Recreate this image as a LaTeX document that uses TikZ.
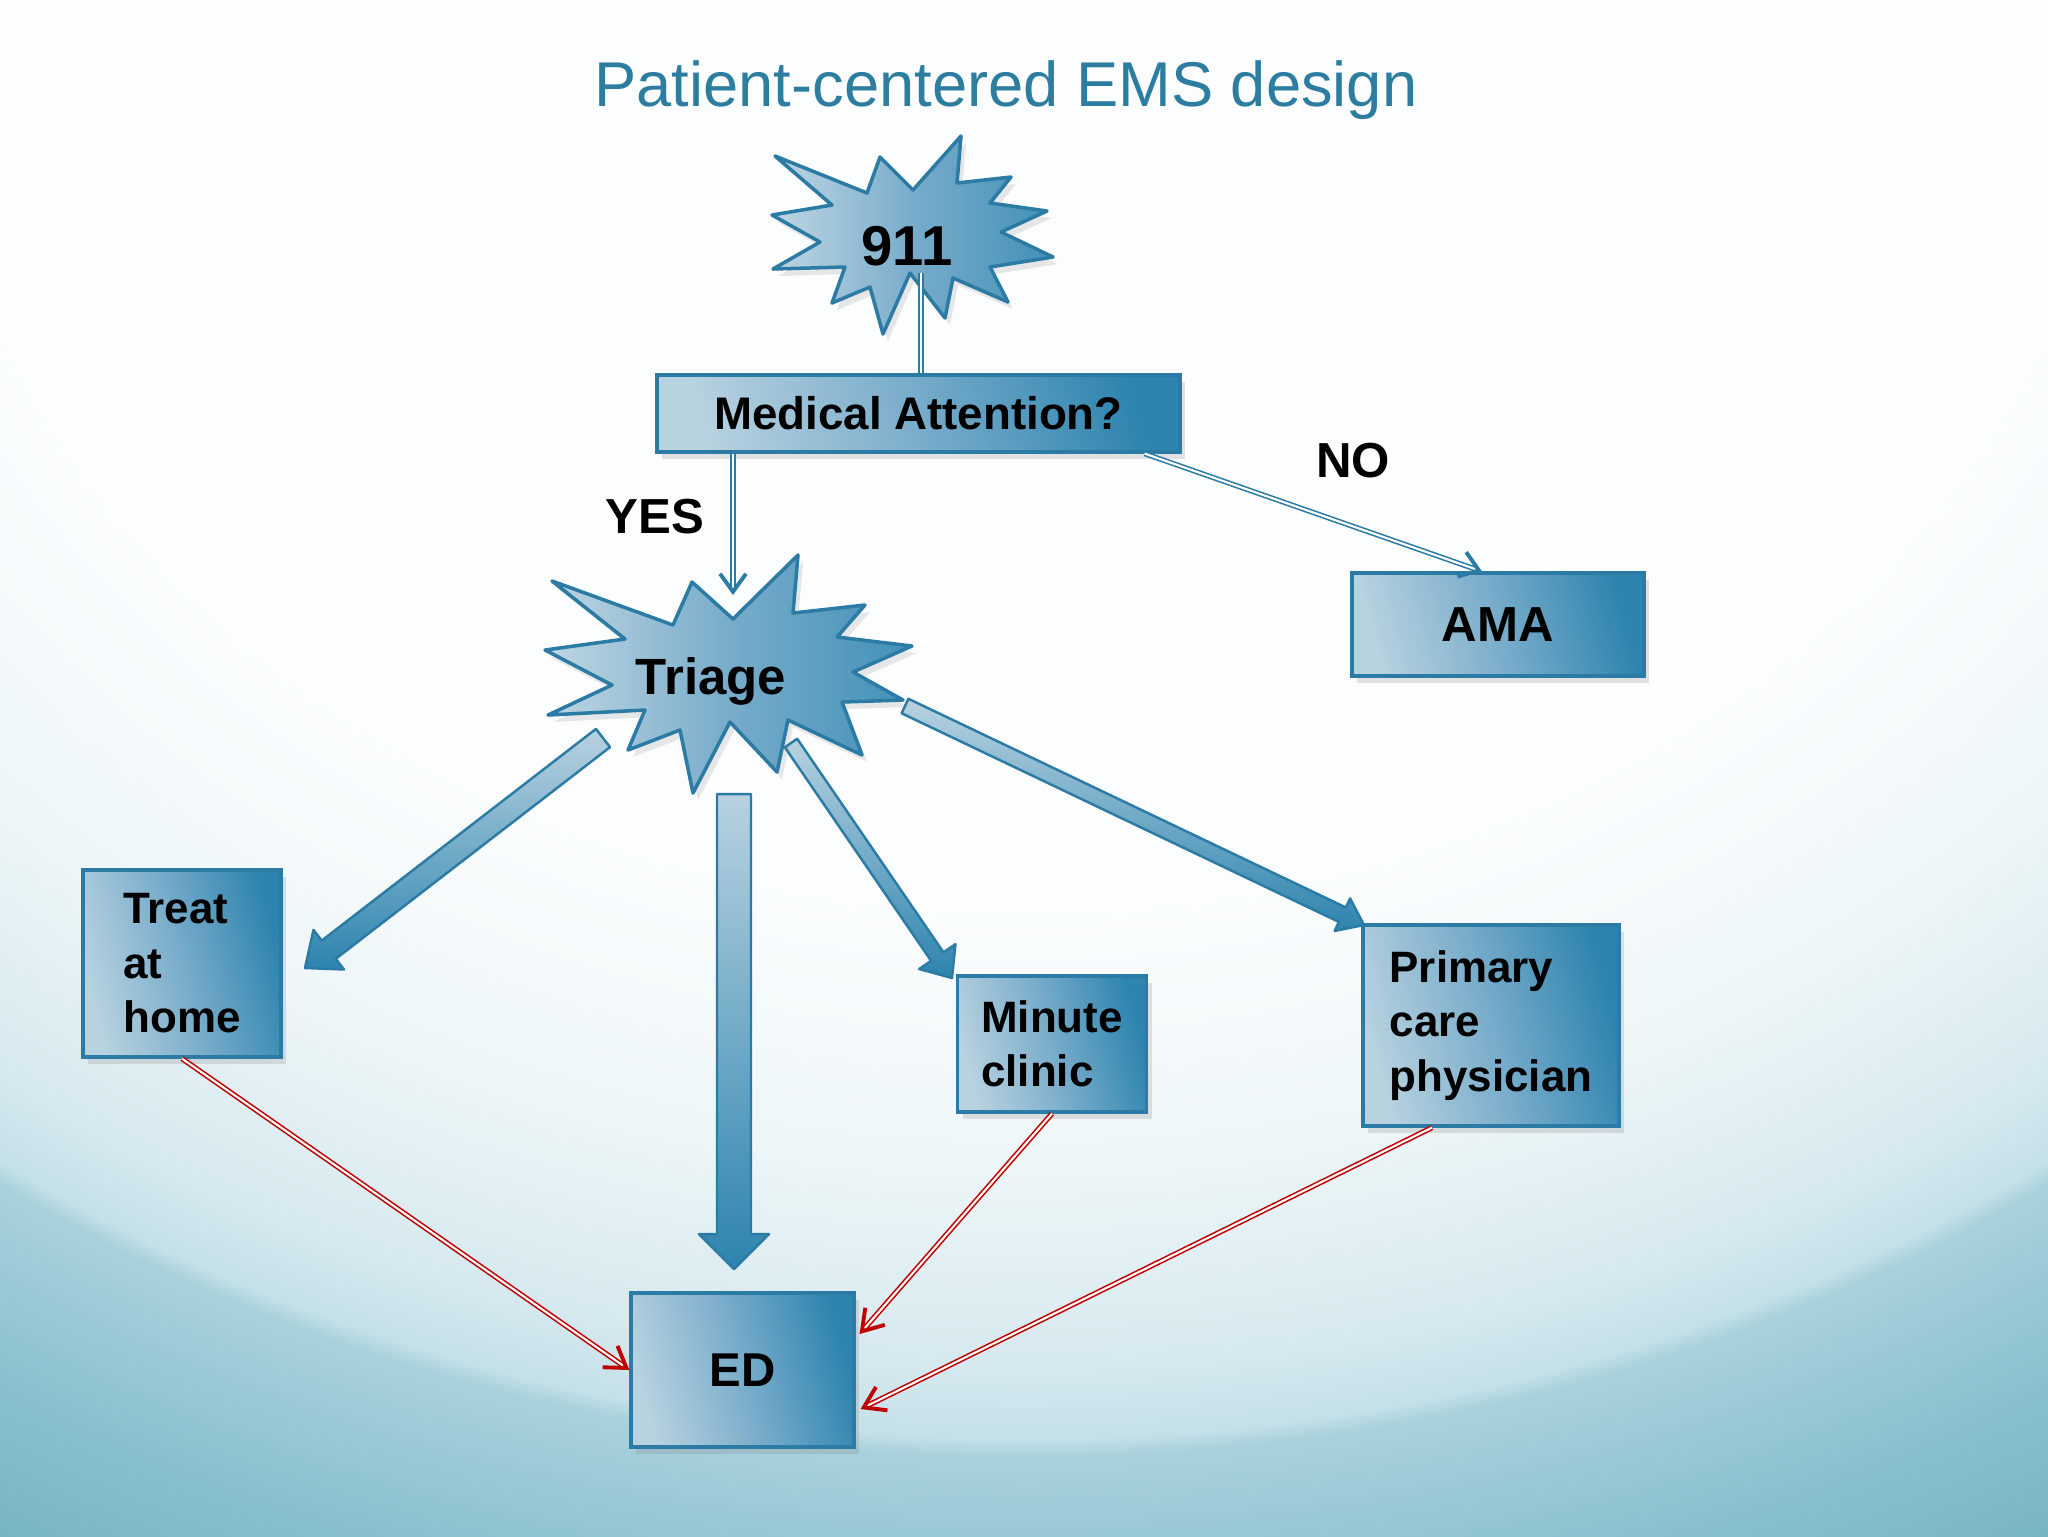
\documentclass[tikz,border=0pt]{standalone}
\usepackage{fontspec}
\setmainfont{Liberation Sans}
\usetikzlibrary{calc,arrows.meta,shadows}

\definecolor{titleblue}{HTML}{2C7DA0}
\definecolor{edgeblue}{HTML}{2B7BA5}
\definecolor{boxlight}{HTML}{B8D2E0}
\definecolor{boxmid}{HTML}{78ACCA}
\definecolor{boxdark}{HTML}{2D84AF}
\definecolor{edred}{HTML}{C00000}
\definecolor{bgwhite}{HTML}{FBFDFE}
\definecolor{bgpale}{HTML}{EEF6F8}
\definecolor{bglight}{HTML}{D6E9EF}
\definecolor{bgrim}{HTML}{C4E0E8}
\definecolor{bgmid}{HTML}{A8D1DC}
\definecolor{bgteal}{HTML}{88BFCD}
\definecolor{bgdeep}{HTML}{72AFC1}

% the path box maps to -25bp..25bp
\pgfdeclareradialshading{bgglow}{\pgfpoint{0bp}{0bp}}{%
  color(0bp)=(bgwhite); color(12.5bp)=(bgwhite); color(16bp)=(bgpale);
  color(18.8bp)=(bglight); color(19.85bp)=(bgrim); color(20.1bp)=(bgmid);
  color(22.5bp)=(bgteal); color(25bp)=(bgdeep); color(50bp)=(bgdeep)}

% fat arrow: tail, tip, half shaft, half head, head length
\newcommand{\fatarrow}[5]{%
  \coordinate (hb) at ($(#2)!#5!(#1)$);
  \path[fatarr] ($(#1)!#3!90:(#2)$) -- ($(hb)!#3!-90:(#1)$) -- ($(hb)!#4!-90:(#1)$)
    -- (#2) -- ($(hb)!#4!90:(#1)$) -- ($(hb)!#3!90:(#1)$) -- ($(#1)!#3!-90:(#2)$) -- cycle;
}

\tikzset{
  box/.style={draw=edgeblue, line width=0.9pt, left color=boxlight, right color=boxdark,
    middle color=boxmid, shading angle=105, inner sep=0pt,
    drop shadow={shadow xshift=0.5mm, shadow yshift=-0.7mm, opacity=0.22}},
  burst/.style={draw=edgeblue, line width=1pt, line join=round, left color=boxlight!90!white,
    right color=boxdark!90!white, middle color=boxmid,
    drop shadow={shadow xshift=0.5mm, shadow yshift=-0.7mm, opacity=0.18}},
  fatarr/.style={draw=edgeblue, line width=0.7pt, line join=round, top color=boxlight,
    bottom color=boxdark},
  lbl/.style={font=\fontsize{14}{17}\selectfont\bfseries},
  boxtxt/.style={font=\fontsize{12.5}{15.5}\selectfont\bfseries, align=left},
  blueline/.style={draw=edgeblue, double=white, double distance=0.6pt, line width=0.45pt},
  redline/.style={draw=edred, double=white, double distance=0.6pt, line width=0.45pt},
  bluetip/.style={-{Straight Barb[length=1.8mm, width=2.6mm, line width=1.1pt]}},
  redtip/.style={-{Straight Barb[length=2mm, width=2.6mm, line width=1.1pt]}},
}

\begin{document}
\begin{tikzpicture}[x=0.1mm, y=-0.1mm]
  \useasboundingbox (0,0) rectangle (2048,1536);
  % background
  \begin{scope}
    \clip (0,0) rectangle (2048,1536);
    \shade[shading=bgglow] (-1161,-1812) rectangle (3209,1812);
  \end{scope}

  \node[anchor=base, font=\fontsize{18}{22}\selectfont, text=titleblue] (title) at (1006,106)
    {Patient-centered EMS design};

  % connectors under the bursts
  \coordinate (c911) at (921,273);
  \coordinate (yesend) at (733,595);

  % 911 burst
  \path[burst] (775,156) -- (867,193) -- (880,157) -- (913,190) -- (961,136) -- (957,183)
    -- (1011,177) -- (990,203) -- (1047,211) -- (1001,232) -- (1053,257) -- (990,267)
    -- (1008,302) -- (953,278) -- (945,318) -- (910,273) -- (883,334) -- (870,287)
    -- (832,303) -- (845,267) -- (773,269) -- (820,242) -- (772,215) -- (832,205) -- cycle;
  \node[lbl, font=\fontsize{16}{19}\selectfont\bfseries, anchor=base] (n911) at (907,265) {911};

  % boxes
  \node[box, lbl, font=\fontsize{13}{16}\selectfont\bfseries, minimum width=52.3mm,
    minimum height=7.7mm] (ma) at (918.5,413.5) {Medical Attention?};
  \node[box, lbl, minimum width=29.2mm, minimum height=10.3mm] (ama) at (1498,624.5) {AMA};
  \node[box, boxtxt, minimum width=19.8mm, minimum height=18.7mm] (treat) at (182,963.5)
    {Treat\\at\\home};
  \node[box, boxtxt, minimum width=18.9mm, minimum height=13.6mm] (minute) at (1052,1044)
    {Minute\\clinic};
  \node[box, boxtxt, minimum width=25.6mm, minimum height=20.1mm] (primary) at (1491,1025.5)
    {Primary\\care\\physician};
  \node[box, lbl, font=\fontsize{13.5}{16}\selectfont\bfseries, minimum width=22.3mm,
    minimum height=15.4mm] (ed) at (742.5,1370) {ED};

  \draw[blueline] (c911) -- (c911 |- ma.north);
  \draw[blueline, bluetip] (yesend |- ma.south) -- (yesend);
  \draw[blueline, bluetip] ([xshift=-3.7mm]ma.south east) -- ([xshift=-1.6mm]ama.north);
  \node[lbl, anchor=base] (yes) at (655,533) {YES};
  \node[lbl, anchor=base] (no) at (1353,477) {NO};

  % fat arrows out of triage
  \coordinate (tTreat) at (603,738);   \coordinate (pTreat) at (305,968);
  \coordinate (tEd) at (734,794);      \coordinate (pEd) at (734,1269);
  \coordinate (tMinute) at (791,743);  \coordinate (pMinute) at (952,978);
  \coordinate (tPrimary) at (905,706); \coordinate (pPrimary) at (1364,925);
  \fatarrow{tTreat}{pTreat}{1.15mm}{2.5mm}{3mm}
  \fatarrow{tEd}{pEd}{1.7mm}{3.5mm}{3.5mm}
  \fatarrow{tMinute}{pMinute}{0.75mm}{2.2mm}{2.6mm}
  \fatarrow{tPrimary}{pPrimary}{0.8mm}{1.8mm}{2.4mm}

  % triage burst
  \path[burst] (552,581) -- (673,625) -- (692,582) -- (733,619) -- (798,555) -- (793,613)
    -- (865,605) -- (837,637) -- (912,646) -- (853,672) -- (903,700) -- (842,702)
    -- (862,755) -- (788,720) -- (777,772) -- (730,722) -- (693,793) -- (680,730)
    -- (628,750) -- (645,710) -- (548,715) -- (612,685) -- (545,650) -- (625,639) -- cycle;
  \node[lbl, font=\fontsize{14.5}{17}\selectfont\bfseries, anchor=base] (triage) at (711,694) {Triage};

  % back to the ED
  \draw[redline, redtip] (treat.south) -- (ed.west);
  \draw[redline, redtip] (minute.south) -- ([yshift=3.6mm, xshift=0.4mm]ed.east);
  \draw[redline, redtip] ([xshift=-5.9mm]primary.south) -- ([yshift=-3.9mm, xshift=0.5mm]ed.east);
\end{tikzpicture}
\end{document}
